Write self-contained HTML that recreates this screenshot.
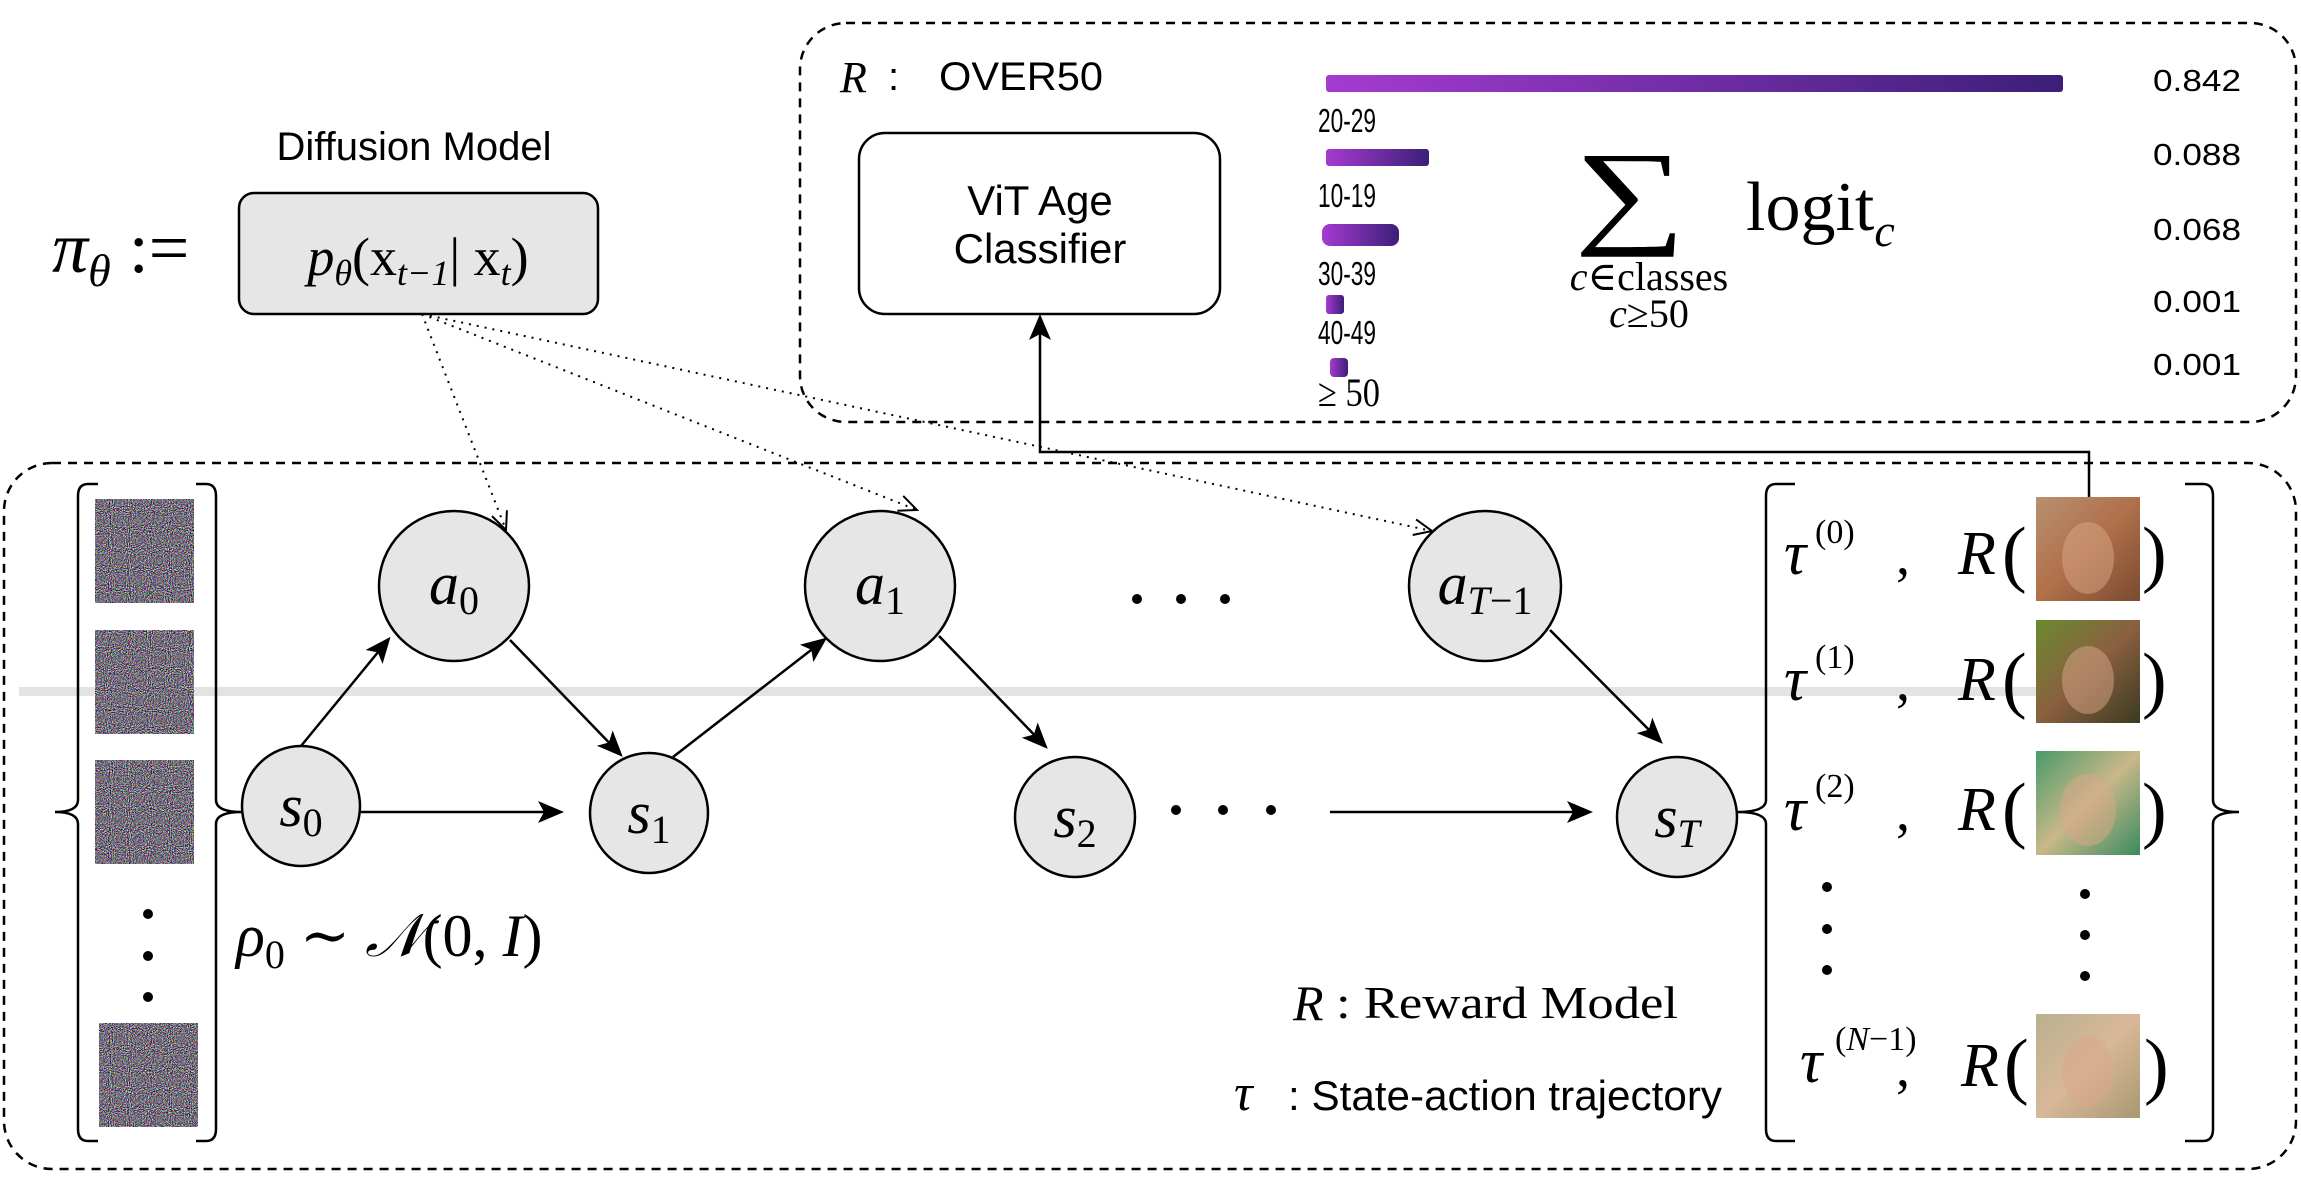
<!DOCTYPE html>
<html><head><meta charset="utf-8"><style>
html,body{margin:0;padding:0;background:#fff}
svg{display:block}
.sans{font-family:"Liberation Sans",Arial,sans-serif}
.serif{font-family:"Liberation Serif","DejaVu Serif",serif}
.it{font-family:"Liberation Serif","DejaVu Serif",serif;font-style:italic}
</style></head><body>
<svg width="2301" height="1182" viewBox="0 0 2301 1182" xmlns="http://www.w3.org/2000/svg">
<defs>
<linearGradient id="bar" x1="0" x2="1" y1="0" y2="0"><stop offset="0" stop-color="#a53bd1"/><stop offset="1" stop-color="#3b1f78"/></linearGradient>
<filter id="noise" x="0" y="0" width="100%" height="100%" filterUnits="objectBoundingBox" color-interpolation-filters="sRGB">
<feTurbulence type="fractalNoise" baseFrequency="0.95" numOctaves="1" seed="3"/>
<feColorMatrix type="matrix" values="3 0 0 0 -1.05  0 3 0 0 -1.08  0 0 3 0 -1.02  0 0 0 0 1"/>
</filter>
<marker id="ahb" markerWidth="26" markerHeight="26" refX="22" refY="13" orient="auto" markerUnits="userSpaceOnUse" viewBox="0 0 26 26"><path d="M0,2 L26,13 L0,24 L6,13 Z" fill="#000"/></marker>
<marker id="oa" markerWidth="22" markerHeight="22" refX="20" refY="11" orient="auto" markerUnits="userSpaceOnUse" viewBox="0 0 22 22"><path d="M2,3 L20,11 L2,19" fill="none" stroke="#000" stroke-width="2"/></marker>
<linearGradient id="f0" x1="0" y1="0" x2="1" y2="1"><stop offset="0" stop-color="#b89070"/><stop offset=".5" stop-color="#b0704a"/><stop offset="1" stop-color="#7a4a30"/></linearGradient>
<linearGradient id="f1" x1="0" y1="0" x2="1" y2="1"><stop offset="0" stop-color="#6a8a30"/><stop offset=".5" stop-color="#8a6040"/><stop offset="1" stop-color="#3a3a20"/></linearGradient>
<linearGradient id="f2" x1="0" y1="0" x2="1" y2="1"><stop offset="0" stop-color="#4a9a6a"/><stop offset=".5" stop-color="#c8b888"/><stop offset="1" stop-color="#3a8a60"/></linearGradient>
<linearGradient id="f3" x1="0" y1="0" x2="1" y2="1"><stop offset="0" stop-color="#b8b090"/><stop offset=".5" stop-color="#d8b898"/><stop offset="1" stop-color="#a89870"/></linearGradient>
</defs>

<rect x="800" y="23" width="1496" height="399" rx="46" fill="none" stroke="#000" stroke-width="2.5" stroke-dasharray="9 7"/>
<rect x="4" y="463" width="2292" height="706" rx="48" fill="none" stroke="#000" stroke-width="2.5" stroke-dasharray="9 7"/>

<rect x="19" y="687" width="2020" height="9" fill="#e3e3e3"/>

<text x="414" y="160" class="sans" font-size="40" text-anchor="middle">Diffusion Model</text>
<rect x="239" y="193" width="359" height="121" rx="15" fill="#e6e6e6" stroke="#000" stroke-width="2.5"/>
<text x="418" y="275" class="it" font-size="54" text-anchor="middle">p<tspan font-size="36" dy="10">θ</tspan><tspan dy="-10" font-style="normal">(x</tspan><tspan font-size="36" dy="10">t−1</tspan><tspan dy="-10" font-style="normal">| x</tspan><tspan font-size="36" dy="10">t</tspan><tspan dy="-10" font-style="normal">)</tspan></text>
<text x="52" y="272" class="it" font-size="72">π<tspan font-size="46" dy="14">θ</tspan><tspan dy="-14" font-style="normal"> :=</tspan></text>

<text x="840" y="92" class="it" font-size="44">R</text>
<text x="888" y="90" class="sans" font-size="40">:</text>
<text x="939" y="90" class="sans" font-size="40" textLength="164" lengthAdjust="spacingAndGlyphs">OVER50</text>
<rect x="859" y="133" width="361" height="181" rx="26" fill="#fff" stroke="#000" stroke-width="2.5"/>
<text x="1040" y="215" class="sans" font-size="42" text-anchor="middle">ViT Age</text>
<text x="1040" y="263" class="sans" font-size="42" text-anchor="middle">Classifier</text>

<rect x="1326" y="75" width="737" height="17" rx="3" fill="url(#bar)"/>
<text x="1318" y="132" class="sans" font-size="33" textLength="58" lengthAdjust="spacingAndGlyphs">20-29</text>
<rect x="1326" y="149" width="103" height="17" rx="3" fill="url(#bar)"/>
<text x="1318" y="207" class="sans" font-size="33" textLength="58" lengthAdjust="spacingAndGlyphs">10-19</text>
<rect x="1322" y="224" width="77" height="22" rx="8" fill="url(#bar)"/>
<text x="1318" y="285" class="sans" font-size="33" textLength="58" lengthAdjust="spacingAndGlyphs">30-39</text>
<rect x="1326" y="295" width="18" height="19" rx="3" fill="url(#bar)"/>
<text x="1318" y="344" class="sans" font-size="33" textLength="58" lengthAdjust="spacingAndGlyphs">40-49</text>
<rect x="1330" y="358" width="18" height="19" rx="4" fill="url(#bar)"/>
<text x="1318" y="406" class="serif" font-size="40" textLength="62" lengthAdjust="spacingAndGlyphs">≥ 50</text>
<g class="sans" font-size="31">
<text x="2153" y="91" textLength="88" lengthAdjust="spacingAndGlyphs">0.842</text>
<text x="2153" y="165" textLength="88" lengthAdjust="spacingAndGlyphs">0.088</text>
<text x="2153" y="240" textLength="88" lengthAdjust="spacingAndGlyphs">0.068</text>
<text x="2153" y="312" textLength="88" lengthAdjust="spacingAndGlyphs">0.001</text>
<text x="2153" y="375" textLength="88" lengthAdjust="spacingAndGlyphs">0.001</text>
</g>
<text class="serif" font-size="116" text-anchor="middle" transform="translate(1630,232) scale(1.35,1)">∑</text>
<text x="1746" y="230" class="serif" font-size="70">logit<tspan font-style="italic" font-size="46" dy="16">c</tspan></text>
<text x="1649" y="290" class="serif" font-size="40" text-anchor="middle"><tspan font-style="italic">c</tspan>∈classes</text>
<text x="1649" y="327" class="serif" font-size="40" text-anchor="middle"><tspan font-style="italic">c</tspan>≥50</text>

<polyline points="2089,497 2089,452 1040,452 1040,318" fill="none" stroke="#000" stroke-width="2.5" marker-end="url(#ahb)"/>

<g fill="none" stroke="#000" stroke-width="2" stroke-dasharray="2 6">
<line x1="422" y1="314" x2="506" y2="530" marker-end="url(#oa)"/>
<line x1="422" y1="314" x2="917" y2="510" marker-end="url(#oa)"/>
<line x1="422" y1="314" x2="1432" y2="531" marker-end="url(#oa)"/>
</g>

<path d="M98,484 L88,484 Q78,484 78,496 L78,800 Q78,812 55,812 Q78,812 78,824 L78,1129 Q78,1141 88,1141 L98,1141" fill="none" stroke="#000" stroke-width="2.5"/>
<path d="M196,484 L206,484 Q216,484 216,496 L216,800 Q216,812 242,812 Q216,812 216,824 L216,1129 Q216,1141 206,1141 L196,1141" fill="none" stroke="#000" stroke-width="2.5"/>
<rect x="95" y="499" width="99" height="104" filter="url(#noise)"/>
<rect x="95" y="630" width="99" height="104" filter="url(#noise)"/>
<rect x="95" y="760" width="99" height="104" filter="url(#noise)"/>
<rect x="99" y="1023" width="99" height="104" filter="url(#noise)"/>
<circle cx="148" cy="914" r="5"/><circle cx="148" cy="956" r="5"/><circle cx="148" cy="997" r="5"/>
<text x="236" y="956" class="it" font-size="60">ρ<tspan font-size="40" dy="12" font-style="normal">0</tspan><tspan dy="-12" font-style="normal"> ∼ </tspan>𝒩<tspan font-style="normal">(0, </tspan>I<tspan font-style="normal">)</tspan></text>

<g fill="#e6e6e6" stroke="#000" stroke-width="2.5">
<ellipse cx="301" cy="806" rx="59" ry="60"/>
<ellipse cx="454" cy="586" rx="75" ry="75"/>
<ellipse cx="649" cy="813" rx="59" ry="60"/>
<ellipse cx="880" cy="586" rx="75" ry="75"/>
<ellipse cx="1075" cy="817" rx="60" ry="60"/>
<ellipse cx="1485" cy="586" rx="76" ry="75"/>
<ellipse cx="1677" cy="817" rx="60" ry="60"/>
</g>
<g class="it" font-size="60" text-anchor="middle">
<text x="454" y="604">a<tspan font-size="40" dy="10" font-style="normal">0</tspan></text>
<text x="880" y="604">a<tspan font-size="40" dy="10" font-style="normal">1</tspan></text>
<text x="1485" y="604">a<tspan font-size="40" dy="10">T</tspan><tspan font-size="40" font-style="normal">−1</tspan></text>
<text x="301" y="826">s<tspan font-size="40" dy="10" font-style="normal">0</tspan></text>
<text x="649" y="833">s<tspan font-size="40" dy="10" font-style="normal">1</tspan></text>
<text x="1075" y="837">s<tspan font-size="40" dy="10" font-style="normal">2</tspan></text>
<text x="1677" y="837">s<tspan font-size="40" dy="10">T</tspan></text>
</g>
<g fill="#000">
<circle cx="1137" cy="599" r="5"/><circle cx="1181" cy="599" r="5"/><circle cx="1225" cy="599" r="5"/>
<circle cx="1176" cy="810" r="5"/><circle cx="1223" cy="810" r="5"/><circle cx="1271" cy="810" r="5"/>
</g>

<g stroke="#000" stroke-width="2.5" fill="none" marker-end="url(#ahb)">
<line x1="361" y1="812" x2="560" y2="812"/>
<line x1="301" y1="746" x2="388" y2="640"/>
<line x1="510" y1="640" x2="620" y2="754"/>
<line x1="673" y1="757" x2="824" y2="640"/>
<line x1="939" y1="636" x2="1045" y2="746"/>
<line x1="1330" y1="812" x2="1589" y2="812"/>
<line x1="1550" y1="630" x2="1660" y2="741"/>
</g>

<path d="M1795,484 L1776,484 Q1766,484 1766,496 L1766,800 Q1766,812 1737,812 Q1766,812 1766,824 L1766,1129 Q1766,1141 1776,1141 L1795,1141" fill="none" stroke="#000" stroke-width="2.5"/>
<path d="M2185,484 L2203,484 Q2213,484 2213,496 L2213,800 Q2213,812 2239,812 Q2213,812 2213,824 L2213,1129 Q2213,1141 2203,1141 L2185,1141" fill="none" stroke="#000" stroke-width="2.5"/>

<rect x="2036" y="497" width="104" height="104" fill="url(#f0)"/>
<rect x="2036" y="620" width="104" height="103" fill="url(#f1)"/>
<rect x="2036" y="751" width="104" height="104" fill="url(#f2)"/>
<rect x="2036" y="1014" width="104" height="104" fill="url(#f3)"/>
<g fill="#d9a888" opacity=".5">
<ellipse cx="2088" cy="558" rx="26" ry="36"/><ellipse cx="2088" cy="680" rx="26" ry="34"/>
<ellipse cx="2088" cy="810" rx="28" ry="36"/><ellipse cx="2088" cy="1072" rx="26" ry="36"/>
</g>
<g class="it" font-size="62">
<text x="1784" y="574">τ</text><text x="1815" y="543" font-size="34" font-style="normal">(0)</text>
<text x="1784" y="700">τ</text><text x="1815" y="668" font-size="34" font-style="normal">(1)</text>
<text x="1784" y="830">τ</text><text x="1815" y="797" font-size="34" font-style="normal">(2)</text>
<text x="1800" y="1082">τ</text><text x="1835" y="1050" font-size="34" font-style="normal">(<tspan font-style="italic">N</tspan>−1)</text>
<text x="1958" y="574">R</text><text x="2002" y="578" font-style="normal" font-size="74">(</text><text x="2142" y="578" font-style="normal" font-size="74">)</text>
<text x="1958" y="700">R</text><text x="2002" y="704" font-style="normal" font-size="74">(</text><text x="2142" y="704" font-style="normal" font-size="74">)</text>
<text x="1958" y="830">R</text><text x="2002" y="834" font-style="normal" font-size="74">(</text><text x="2142" y="834" font-style="normal" font-size="74">)</text>
<text x="1961" y="1086">R</text><text x="2004" y="1090" font-style="normal" font-size="74">(</text><text x="2144" y="1090" font-style="normal" font-size="74">)</text>
</g>
<g class="serif" font-size="56">
<text x="1896" y="574">,</text><text x="1896" y="700">,</text><text x="1896" y="830">,</text><text x="1896" y="1086">,</text>
</g>
<circle cx="1827" cy="887" r="5"/><circle cx="1827" cy="929" r="5"/><circle cx="1827" cy="970" r="5"/>
<circle cx="2085" cy="894" r="5"/><circle cx="2085" cy="935" r="5"/><circle cx="2085" cy="976" r="5"/>

<text x="1293" y="1020" class="it" font-size="50">R</text>
<text x="1336" y="1018" class="serif" font-size="46" textLength="342" lengthAdjust="spacingAndGlyphs"> :  Reward Model</text>
<text x="1234" y="1110" class="it" font-size="52">τ</text>
<text x="1288" y="1110" class="sans" font-size="42" textLength="434" lengthAdjust="spacingAndGlyphs">: State-action trajectory</text>
</svg>
</body></html>
